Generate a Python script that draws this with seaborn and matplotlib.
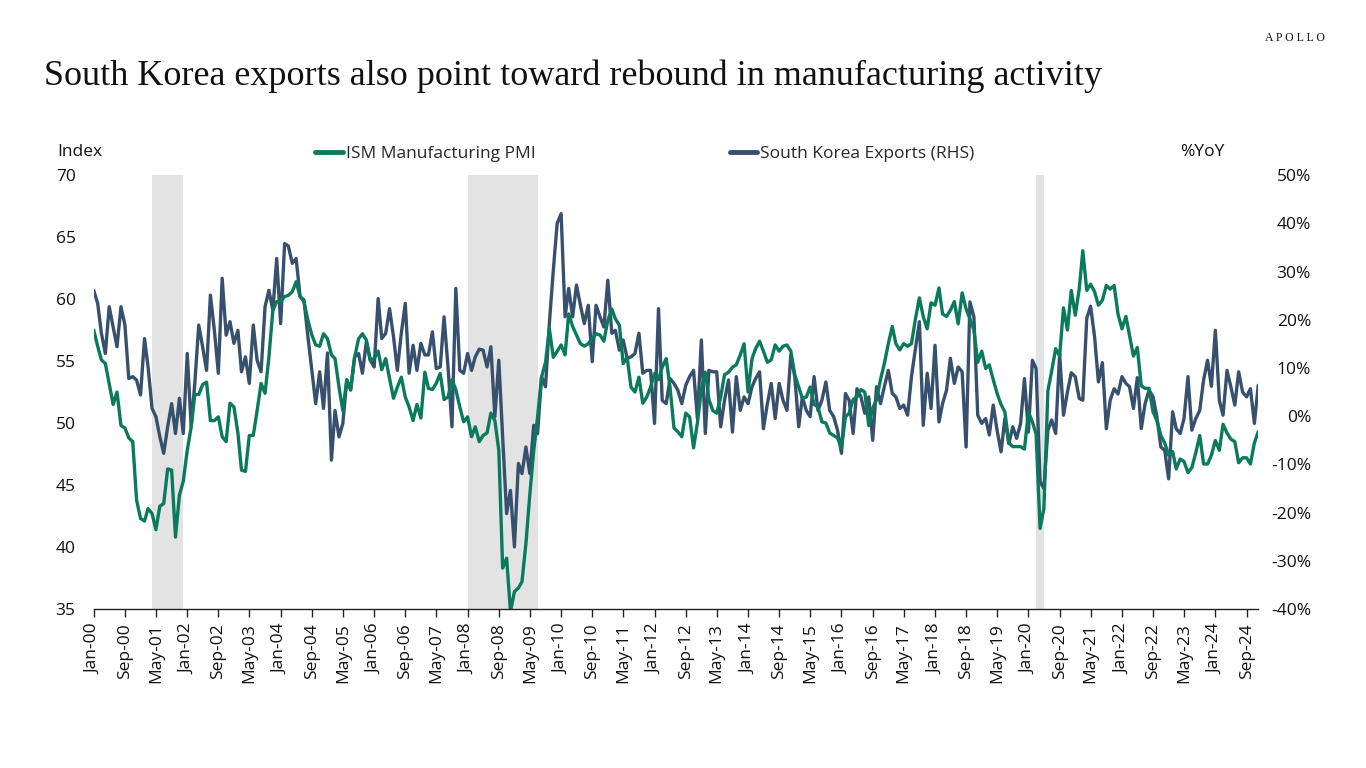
import numpy as np
import pandas as pd
import matplotlib
matplotlib.use("Agg")
import matplotlib.pyplot as plt
import matplotlib.dates as mdates
from matplotlib.ticker import FuncFormatter, MultipleLocator
from matplotlib.lines import Line2D
import seaborn as sns

# ---------------------------
# Data (monthly, Jan 2000 - Dec 2024)
# ---------------------------
ism_pmi = [
    57.5, 56.2, 55.1, 54.8, 53.2, 51.5, 52.5, 49.8, 49.6, 48.8, 48.5, 43.8,  # 2000
    42.3, 42.1, 43.1, 42.7, 41.4, 43.3, 43.5, 46.3, 46.2, 40.8, 44.2, 45.3,  # 2001
    47.8, 49.7, 52.3, 52.3, 53.1, 53.3, 50.2, 50.2, 50.5, 48.9, 48.5, 51.6,  # 2002
    51.3, 49.2, 46.2, 46.1, 49.0, 49.0, 51.0, 53.2, 52.4, 55.3, 59.1, 59.8,  # 2003
    59.8, 60.2, 60.3, 60.6, 61.4, 60.2, 59.8, 58.3, 57.1, 56.3, 56.2, 57.2,  # 2004
    56.8, 55.5, 55.2, 52.9, 51.0, 53.5, 52.7, 55.3, 56.8, 57.2, 56.7, 55.1,  # 2005
    55.2, 55.8, 54.3, 55.2, 53.6, 52.0, 52.9, 53.7, 52.1, 51.3, 50.2, 51.5,  # 2006
    50.4, 54.1, 52.8, 52.7, 53.2, 54.0, 51.9, 52.1, 53.5, 52.7, 51.3, 50.1,  # 2007
    50.5, 48.9, 49.7, 48.5, 49.0, 49.2, 50.8, 50.2, 47.8, 38.3, 39.1, 34.8,  # 2008
    36.4, 36.7, 37.2, 40.3, 44.2, 47.8, 50.5, 53.7, 54.9, 57.6, 55.3, 55.8,  # 2009
    56.3, 55.5, 58.8, 57.8, 57.1, 56.4, 56.2, 56.4, 56.8, 57.2, 57.1, 56.6,  # 2010
    58.3, 59.2, 58.4, 57.9, 54.8, 55.3, 52.9, 52.5, 53.7, 51.6, 52.1, 52.9,  # 2011
    54.0, 53.5, 54.5, 55.2, 52.9, 49.6, 49.3, 48.9, 50.8, 50.5, 48.0, 50.0,  # 2012
    52.7, 54.1, 51.9, 51.0, 50.8, 52.1, 53.9, 54.1, 54.5, 54.7, 55.5, 56.4,  # 2013
    52.5, 55.2, 56.0, 56.6, 55.8, 54.9, 55.1, 56.3, 55.8, 56.2, 56.3, 55.8,  # 2014
    53.9, 52.9, 52.0, 52.1, 52.9, 51.5, 51.3, 50.1, 50.0, 49.2, 49.0, 48.8,  # 2015
    48.0, 50.5, 50.8, 51.9, 52.1, 52.7, 52.5, 49.8, 51.2, 51.9, 53.5, 54.8,  # 2016
    56.4, 57.8, 56.4, 55.9, 56.4, 56.2, 56.4, 58.4, 60.1, 58.6, 57.6, 59.7,  # 2017
    59.5, 60.9, 58.8, 58.6, 59.1, 59.8, 58.0, 60.5, 59.2, 58.4, 57.5, 54.9,  # 2018
    55.8, 54.4, 54.7, 53.5, 52.4, 51.5, 50.9, 48.4, 48.1, 48.1, 48.1, 47.9,  # 2019
    50.9, 50.1, 49.1, 41.5, 43.1, 52.6, 54.2, 56.0, 55.4, 59.3, 57.5, 60.7,  # 2020
    58.7, 60.8, 63.9, 60.7, 61.2, 60.6, 59.5, 59.9, 61.1, 60.8, 61.1, 58.8,  # 2021
    57.6, 58.6, 57.1, 55.4, 56.1, 53.0, 52.8, 52.8, 50.9, 50.2, 49.0, 48.4,  # 2022
    47.4, 47.7, 46.3, 47.1, 46.9, 46.0, 46.4, 47.6, 49.0, 46.7, 46.7, 47.4,  # 2023
    48.6, 47.8, 49.9, 49.2, 48.7, 48.5, 46.8, 47.2, 47.2, 46.7, 48.4, 49.3,  # 2024
]

korea_exports_yoy = [
    26.1, 23.4, 17.2, 13.0, 22.7, 18.5, 14.4, 22.7, 18.9, 7.8, 8.2, 7.5,  # 2000
    4.4, 16.1, 10.2, 1.6, -0.1, -4.3, -7.7, -2.2, 2.6, -3.6, 3.7, -3.6,  # 2001
    13.0, -2.2, 6.8, 18.9, 14.4, 9.5, 25.1, 17.8, 8.9, 28.6, 16.8, 19.6,  # 2002
    15.1, 17.8, 9.2, 12.3, 6.8, 18.9, 11.6, 9.2, 22.7, 26.1, 22.0, 32.7,  # 2003
    19.2, 35.8, 35.3, 31.7, 32.7, 24.8, 24.1, 16.5, 9.5, 2.6, 9.2, 1.6,  # 2004
    13.1, -9.1, 1.2, -4.3, -1.5, 7.5, 5.4, 12.3, 13.0, 8.9, 15.4, 11.6,  # 2005
    10.2, 24.4, 16.1, 17.2, 22.3, 16.5, 9.5, 17.2, 23.4, 8.9, 14.7, 9.5,  # 2006
    15.1, 12.7, 12.7, 17.5, 9.9, 10.2, 20.6, 10.2, -2.2, 26.5, 9.5, 8.9,  # 2007
    13.0, 9.5, 12.3, 13.9, 13.7, 10.2, 14.4, -0.1, 11.6, -4.3, -20.2, -15.4,  # 2008
    -27.1, -9.8, -11.9, -6.4, -11.9, -1.9, -3.6, 8.2, 6.1, 19.2, 30.3, 40.0,  # 2009
    42.0, 20.6, 26.5, 20.6, 27.2, 23.0, 19.2, 23.0, 11.3, 23.0, 20.6, 18.5,  # 2010
    28.2, 17.2, 17.8, 13.7, 15.8, 12.0, 12.3, 13.0, 17.2, 8.9, 9.5, 9.5,  # 2011
    -1.5, 22.3, 3.3, 2.6, 7.8, 6.8, 5.4, 2.6, 6.4, 8.2, 9.5, -0.5,  # 2012
    15.8, -3.6, 9.5, 9.2, 9.2, -2.2, 3.3, 7.5, -3.3, 8.2, 1.2, 4.0,  # 2013
    2.6, 6.1, 7.8, 9.2, -2.6, 2.6, 6.8, -0.5, 6.8, 3.3, 1.2, 12.7,  # 2014
    8.2, -2.2, 4.0, 1.2, -0.1, 8.2, 1.2, 3.3, 7.1, 1.2, -0.1, -2.9,  # 2015
    -7.7, 4.7, 3.3, -3.6, 5.7, 4.0, 0.6, 4.0, -5.0, 6.1, 2.6, 6.1,  # 2016
    9.5, 4.7, 4.0, 1.6, 2.3, 0.2, 8.2, 14.0, 19.6, -1.9, 8.9, 1.6,  # 2017
    14.7, -1.2, 2.6, 5.4, 12.0, 6.8, 10.2, 9.2, -6.4, 23.7, 20.6, 0.2,  # 2018
    -1.5, -0.5, -3.9, 2.3, -2.9, -7.4, -0.5, -5.7, -2.2, -4.6, -1.5, 7.8,  # 2019
    -3.3, 11.6, 9.9, -13.6, -15.0, -2.9, -0.8, -3.6, 13.0, 0.2, 5.0, 9.0,  # 2020
    8.2, 3.7, 3.3, 20.3, 22.8, 16.5, 7.1, 11.1, -2.6, 3.3, 5.7, 4.6,  # 2021
    8.2, 6.8, 6.1, 1.6, 8.0, -2.6, 2.6, 5.4, 4.0, -0.1, -6.4, -7.1,  # 2022
    -13.0, 0.9, -2.6, -3.6, -0.5, 8.2, -2.9, -0.5, 1.2, 7.5, 11.6, 6.2,  # 2023
    17.8, 3.3, 0.2, 9.5, 6.1, 2.3, 9.2, 5.0, 4.0, 5.7, -1.5, 6.4,  # 2024
]

recessions = [("2001-04-01", "2001-12-01"),
              ("2008-01-01", "2009-07-01"),
              ("2020-03-01", "2020-05-01")]

dates = pd.date_range("2000-01-01", periods=len(ism_pmi), freq="MS")
df = pd.DataFrame({"date": dates, "ism": ism_pmi, "exports": korea_exports_yoy})

GREEN = "#0A7A5C"
NAVY = "#36506E"
SHADE = "#E3E3E3"

sns.set_theme(style="white")
plt.rcParams["font.family"] = ["Open Sans", "DejaVu Sans"]

fig = plt.figure(figsize=(13.66, 7.68), dpi=100)
ax = fig.add_axes([0.0686, 0.207, 0.8525, 0.565])
ax2 = ax.twinx()

# recession shading sits on the back axes, under both lines
for start, end in recessions:
    ax2.axvspan(pd.Timestamp(start), pd.Timestamp(end), color=SHADE, lw=0, zorder=0)

sns.lineplot(data=df, x="date", y="exports", ax=ax2, color=NAVY, linewidth=2.4, legend=False)
sns.lineplot(data=df, x="date", y="ism", ax=ax, color=GREEN, linewidth=2.4, legend=False)

# green on top of navy
ax.set_zorder(ax2.get_zorder() + 1)
ax.patch.set_visible(False)

ax.set_xlim(dates[0], dates[-1])
ax.set_ylim(35, 70)
ax2.set_ylim(-40, 50)
ax.yaxis.set_major_locator(MultipleLocator(5))
ax2.yaxis.set_major_locator(MultipleLocator(10))
ax2.yaxis.set_major_formatter(FuncFormatter(lambda v, p: f"{v:.0f}%"))

ax.set_xticks(dates[::8])
ax.xaxis.set_major_formatter(mdates.DateFormatter("%b-%y"))
for lab in ax.get_xticklabels():
    lab.set_rotation(90)

for a in (ax, ax2):
    for s in a.spines.values():
        s.set_visible(False)
    a.set_xlabel("")
    a.set_ylabel("")
ax.spines["bottom"].set_visible(True)
ax.spines["bottom"].set_color("#222222")
ax.spines["bottom"].set_linewidth(1.0)

ax.tick_params(axis="x", direction="out", length=6, width=1, color="#222222",
               labelsize=12.5, labelcolor="#111111", pad=4, bottom=True)
ax.tick_params(axis="y", length=0, labelsize=12.5, labelcolor="#111111", pad=13)
ax2.tick_params(axis="y", length=0, labelsize=12.5, labelcolor="#111111", pad=38)
for lab in ax2.get_yticklabels():
    lab.set_horizontalalignment("right")

# titles and labels
fig.text(0.032, 0.889, "South Korea exports also point toward rebound in manufacturing activity",
         fontsize=26, family="Liberation Serif", color="#111111", va="baseline")
fig.text(0.970, 0.950, "A P O L L O", fontsize=8.5, family="Liberation Serif", color="#111111",
         ha="right", va="center")
fig.text(0.042, 0.802, "Index", fontsize=12.5, color="#111111", va="center")
fig.text(0.864, 0.802, "%YoY", fontsize=12.5, color="#111111", va="center")

handles = [Line2D([0], [0], color=GREEN, lw=3.5), Line2D([0], [0], color=NAVY, lw=3.5)]
fig.legend(handles, ["ISM Manufacturing PMI", "South Korea Exports (RHS)"],
           loc="center", bbox_to_anchor=(0.472, 0.799), ncol=2, frameon=False,
           fontsize=12.5, handlelength=1.6, handletextpad=0.15, columnspacing=11.2)

fig.savefig("out.png", dpi=100)
